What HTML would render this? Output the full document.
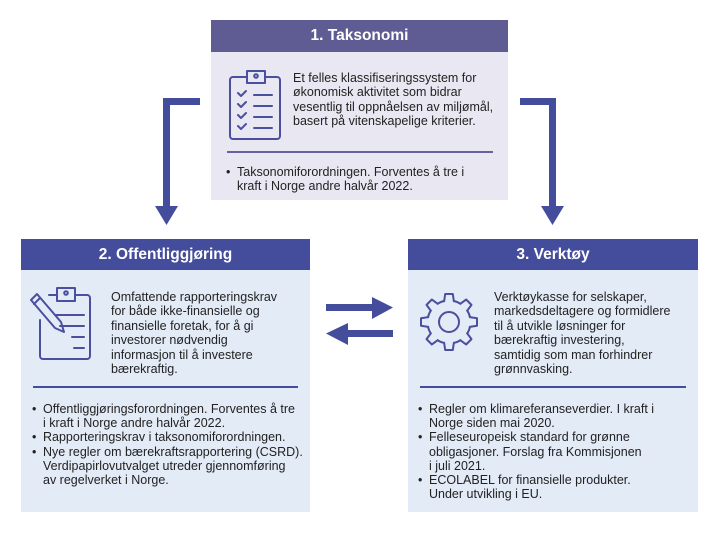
<!DOCTYPE html>
<html><head><meta charset="utf-8"><style>
body{margin:0;background:#fff;width:719px;height:533px;position:relative;overflow:hidden;font-family:"Liberation Sans",sans-serif;color:#222;}
.a{position:absolute}
.hdr{position:absolute;color:#fff;font-weight:bold;font-size:15.5px;text-align:center;line-height:31px}
.t{position:absolute;font-size:12.5px;line-height:14.4px;white-space:nowrap}
.b{position:absolute;font-size:12.5px;line-height:14.2px;white-space:nowrap}
.b div{position:relative;padding-left:11px}
.b div:before{content:"•";position:absolute;left:0}
</style></head><body>
<!-- box1 -->
<div class="a" style="left:211px;top:20px;width:297px;height:180px;background:#e9e7f1"></div>
<div class="hdr" style="left:211px;top:20px;width:297px;height:32px;background:#5f5c94">1. Taksonomi</div>
<div class="t" style="left:293px;top:71px">Et felles klassifiseringssystem for<br>økonomisk aktivitet som bidrar<br>vesentlig til oppnåelsen av miljømål,<br>basert på vitenskapelige kriterier.</div>
<div class="a" style="left:227px;top:151px;width:266px;height:2px;background:#6663a0"></div>
<div class="b" style="left:226px;top:165px"><div>Taksonomiforordningen. Forventes å tre i<br>kraft i Norge andre halvår 2022.</div></div>
<!-- box2 -->
<div class="a" style="left:21px;top:239px;width:289px;height:273px;background:#e3ebf7"></div>
<div class="hdr" style="left:21px;top:239px;width:289px;height:31px;background:#444c9c">2. Offentliggjøring</div>
<div class="t" style="left:111px;top:290px">Omfattende rapporteringskrav<br>for både ikke-finansielle og<br>finansielle foretak, for å gi<br>investorer nødvendig<br>informasjon til å investere<br>bærekraftig.</div>
<div class="a" style="left:33px;top:386px;width:265px;height:1.5px;background:#444c9c"></div>
<div class="b" style="left:32px;top:402px"><div>Offentliggjøringsforordningen. Forventes å tre<br>i kraft i Norge andre halvår 2022.</div><div>Rapporteringskrav i taksonomiforordningen.</div><div>Nye regler om bærekraftsrapportering (CSRD).<br>Verdipapirlovutvalget utreder gjennomføring<br>av regelverket i Norge.</div></div>
<!-- box3 -->
<div class="a" style="left:408px;top:239px;width:290px;height:273px;background:#e3ebf7"></div>
<div class="hdr" style="left:408px;top:239px;width:290px;height:31px;background:#444c9c">3. Verktøy</div>
<div class="t" style="left:494px;top:290px">Verktøykasse for selskaper,<br>markedsdeltagere og formidlere<br>til å utvikle løsninger for<br>bærekraftig investering,<br>samtidig som man forhindrer<br>grønnvasking.</div>
<div class="a" style="left:420px;top:386px;width:266px;height:1.5px;background:#444c9c"></div>
<div class="b" style="left:418px;top:402px"><div>Regler om klimareferanseverdier. I kraft i<br>Norge siden mai 2020.</div><div>Felleseuropeisk standard for grønne<br>obligasjoner. Forslag fra Kommisjonen<br>i juli 2021.</div><div>ECOLABEL for finansielle produkter.<br>Under utvikling i EU.</div></div>
<svg class="a" style="left:0;top:0" width="719" height="533">
<g fill="#444c9c">
<rect x="163" y="98" width="37" height="7"/><rect x="163" y="98" width="7" height="110"/>
<polygon points="155,206 178,206 166.5,225"/>
<rect x="520" y="98" width="36" height="7"/><rect x="549" y="98" width="7" height="110"/>
<polygon points="541,206 564,206 552.5,225"/>
<rect x="326" y="304" width="48" height="7"/><polygon points="372,297 393,307.5 372,319"/>
<rect x="346" y="330" width="47" height="7"/><polygon points="348,323 326,333.5 348,345"/>
</g>
<g fill="none" stroke="#4a4f9e" stroke-width="2" stroke-linecap="round" stroke-linejoin="round">
<rect x="230" y="77" width="50" height="62" rx="3"/>
<path d="M247,83 V71 H265 V83 Z" fill="#e9e7f1"/><circle cx="256" cy="76" r="1.8"/>
<path d="M238,93 l3,3 l5,-5 M238,104 l3,3 l5,-5 M238,115 l3,3 l5,-5 M238,126 l3,3 l5,-5"/>
<path d="M254,95 H272 M254,106 H272 M254,117 H272 M254,128 H272"/>
<path d="M40,320 V356 a3,3 0 0 0 3,3 H87 a3,3 0 0 0 3,-3 V298 a3,3 0 0 0 -3,-3 H75 M57,295 H49"/>
<path d="M57,301 V288 H75 V301 Z" fill="#e3ebf7"/><circle cx="66" cy="293" r="1.8"/>
<path d="M56,315 H84 M60,326 H84 M72,337 H84 M74,348 H84"/>
<path d="M31,300 l6,-6 l24,28 l3,10 l-9,-4 Z M34,304 l6,-6"/>
</g>
<g transform="translate(449,322)" stroke="#4a4f9e" stroke-width="2" fill="#e3ebf7" stroke-linejoin="round">
<circle r="21.5"/>
<g id="tooth"><path d="M-5,-20 L-3.8,-28 L3.8,-28 L5,-20"/></g>
<use href="#tooth" transform="rotate(45)"/><use href="#tooth" transform="rotate(90)"/><use href="#tooth" transform="rotate(135)"/>
<use href="#tooth" transform="rotate(180)"/><use href="#tooth" transform="rotate(225)"/><use href="#tooth" transform="rotate(270)"/><use href="#tooth" transform="rotate(315)"/>
<circle r="10" fill="none"/>
</g>
</svg>
</body></html>
